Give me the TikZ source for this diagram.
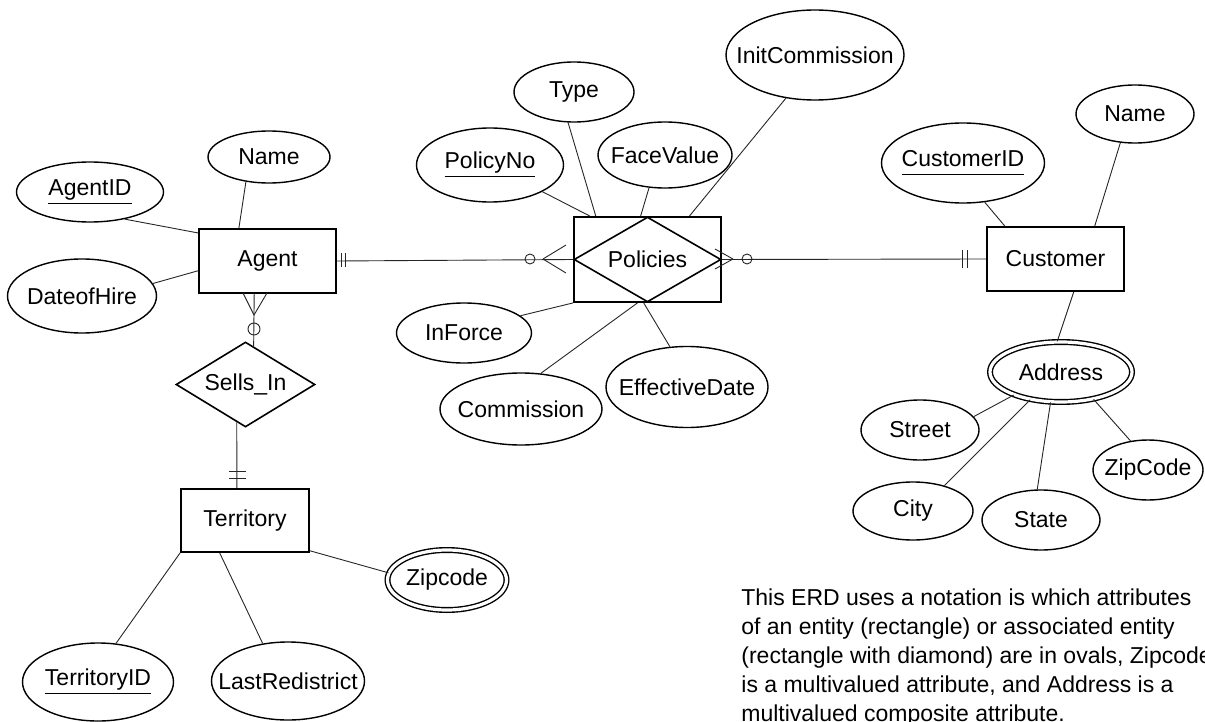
\documentclass[tikz,border=0pt]{standalone}
\usepackage{fontspec}
\setmainfont{Liberation Sans}
\usetikzlibrary{shapes.geometric}

\newcommand{\lbl}[1]{\makebox[0pt]{#1}}
\newcommand{\key}[1]{\makebox[0pt]{\underline{#1\vphantom{y}}}}

\begin{document}
\begin{tikzpicture}[x=0.5pt,y=-0.5pt,
  font=\fontsize{11.5}{14}\selectfont,
  attr/.style 2 args={ellipse, draw, line width=0.7pt, inner sep=0pt,
    minimum width=#1*0.5pt, minimum height=#2*0.5pt},
  mattr/.style 2 args={attr={#1}{#2}, double, double distance=1.6pt},
  ent/.style 2 args={rectangle, draw, line width=0.9pt, inner sep=0pt,
    minimum width=#1*0.5pt, minimum height=#2*0.5pt},
  rel/.style 2 args={diamond, draw, line width=0.8pt, inner sep=0pt, aspect=1.6,
    minimum width=#1*0.5pt, minimum height=#2*0.5pt},
  link/.style={line width=0.45pt, black!85}]

\useasboundingbox (0,0) rectangle (1205,722);

% entities and relationships
\node[ent={137}{64}] (agent) at (267.5,261) {Agent};
\node[ent={147}{85}] (policies) at (647.5,259.5) {};
\node[rel={147}{85}, aspect=1.73] (polrel) at (647.5,259.5) {Policies};
\node[ent={137}{64}] (customer) at (1055.5,259) {Customer};
\node[rel={139}{85}, aspect=1.64] (sells) at (245.5,384.5) {Sells\_In};
\node[ent={128}{63}] (territory) at (245,520.5) {Territory};

% attributes
\node[attr={147}{60}] (agid) at (90,192) {\key{AgentID}};
\node[attr={122}{52}] (agname) at (269,157) {\lbl{Name}};
\node[attr={149}{74}] (hire) at (82,296) {\lbl{DateofHire}};

\node[attr={147}{74}] (polno) at (490,165) {\key{PolicyNo}};
\node[attr={120}{60}] (type) at (574,92) {\lbl{Type}};
\node[attr={134}{66}] (face) at (665,155) {\lbl{FaceValue}};
\node[attr={178}{90}] (initc) at (815,55) {\lbl{InitCommission}};
\node[attr={135}{60}] (inforce) at (464,333) {\lbl{InForce}};
\node[attr={162}{72}] (comm) at (521,409) {\lbl{Commission}};
\node[attr={162}{81}] (effd) at (687,387) {\lbl{EffectiveDate}};

\node[attr={163}{80}] (cuid) at (963,163) {\key{CustomerID}};
\node[attr={118}{58}] (cuname) at (1135,114) {\lbl{Name}};
\node[mattr={142}{60}] (addr) at (1061,372) {\lbl{Address}};
\node[attr={118}{60}] (street) at (920,430) {\lbl{Street}};
\node[attr={120}{58}] (city) at (913,511) {\lbl{City}};
\node[attr={118}{60}] (state) at (1041,520) {\lbl{State}};
\node[attr={110}{60}] (zip) at (1148,470) {\lbl{ZipCode}};

\node[attr={151}{78}] (terid) at (98,682) {\key{TerritoryID}};
\node[attr={153}{78}] (lastr) at (288,681) {\lbl{LastRedistrict}};
\node[mattr={119}{60}] (tzip) at (447,580) {\lbl{Zipcode}};

% attribute links
\draw[link] (agid.-38) -- (agent.158);
\draw[link] (agname.-133) -- (agent.131);
\draw[link] (hire.10) -- (agent.-172);

\draw[link] (polno.-27) -- (policies.143);
\draw[link] (type.-101) -- (policies.140);
\draw[link] (face.-116) -- (policies.99);
\draw[link] (initc.-124) -- (policies.46);
\draw[link] (inforce.17) -- (policies.south west);
\draw[link] (comm.61) -- (policies.-103);
\draw[link] (effd.113) -- (policies.-95);

\draw[link] (cuid.-61) -- (customer.147);
\draw[link] (cuname.-117) -- (customer.40);
\draw[link] (customer.-61) -- (addr.97);
\draw[link] (addr.-154) -- (street.14);
\draw[link] (addr.-138) -- (city.39);
\draw[link] (addr.-109) -- (state.97);
\draw[link] (addr.-40) -- (zip.121);

\draw[link] (territory.south west) -- (terid.65);
\draw[link] (territory.-128) -- (lastr.124);
\draw[link] (territory.-25) -- (tzip.173);

% Agent -- Policies
\draw[link] (agent.east) -- (polrel.west);
\draw[link] (341,253) -- (341,267) (345,253) -- (345,267);
\draw[link] (530,259) circle (2.5pt);
\draw[link] (543,259) -- (566,245) (543,259) -- (566,273);

% Policies -- Customer
\draw[link] (polrel.east) -- (customer.west);
\draw[link] (733,259) -- (715,249) (733,259) -- (715,269);
\draw[link] (747,259) circle (2.5pt);
\draw[link] (962,250) -- (962,268) (967,250) -- (967,268);

% Agent -- Sells_In -- Territory
\draw[link] (agent.-112) -- (sells.78);
\draw[link] (243,293) -- (254,315) -- (267,293);
\draw[link] (254,329) circle (3pt);
\draw[link] (sells.-103) -- (territory.104);
\draw[link] (229,471) -- (246,471) (229,478) -- (246,478);

% note
\node[anchor=north west, align=left, inner sep=0pt,
  font=\fontsize{11.5}{14.5}\selectfont] (note) at (741,588)
  {This ERD uses a notation is which attributes\\
   of an entity (rectangle) or associated entity\\
   (rectangle with diamond) are in ovals, Zipcode\\
   is a multivalued attribute, and Address is a\\
   multivalued composite attribute.};

\end{tikzpicture}
\end{document}
